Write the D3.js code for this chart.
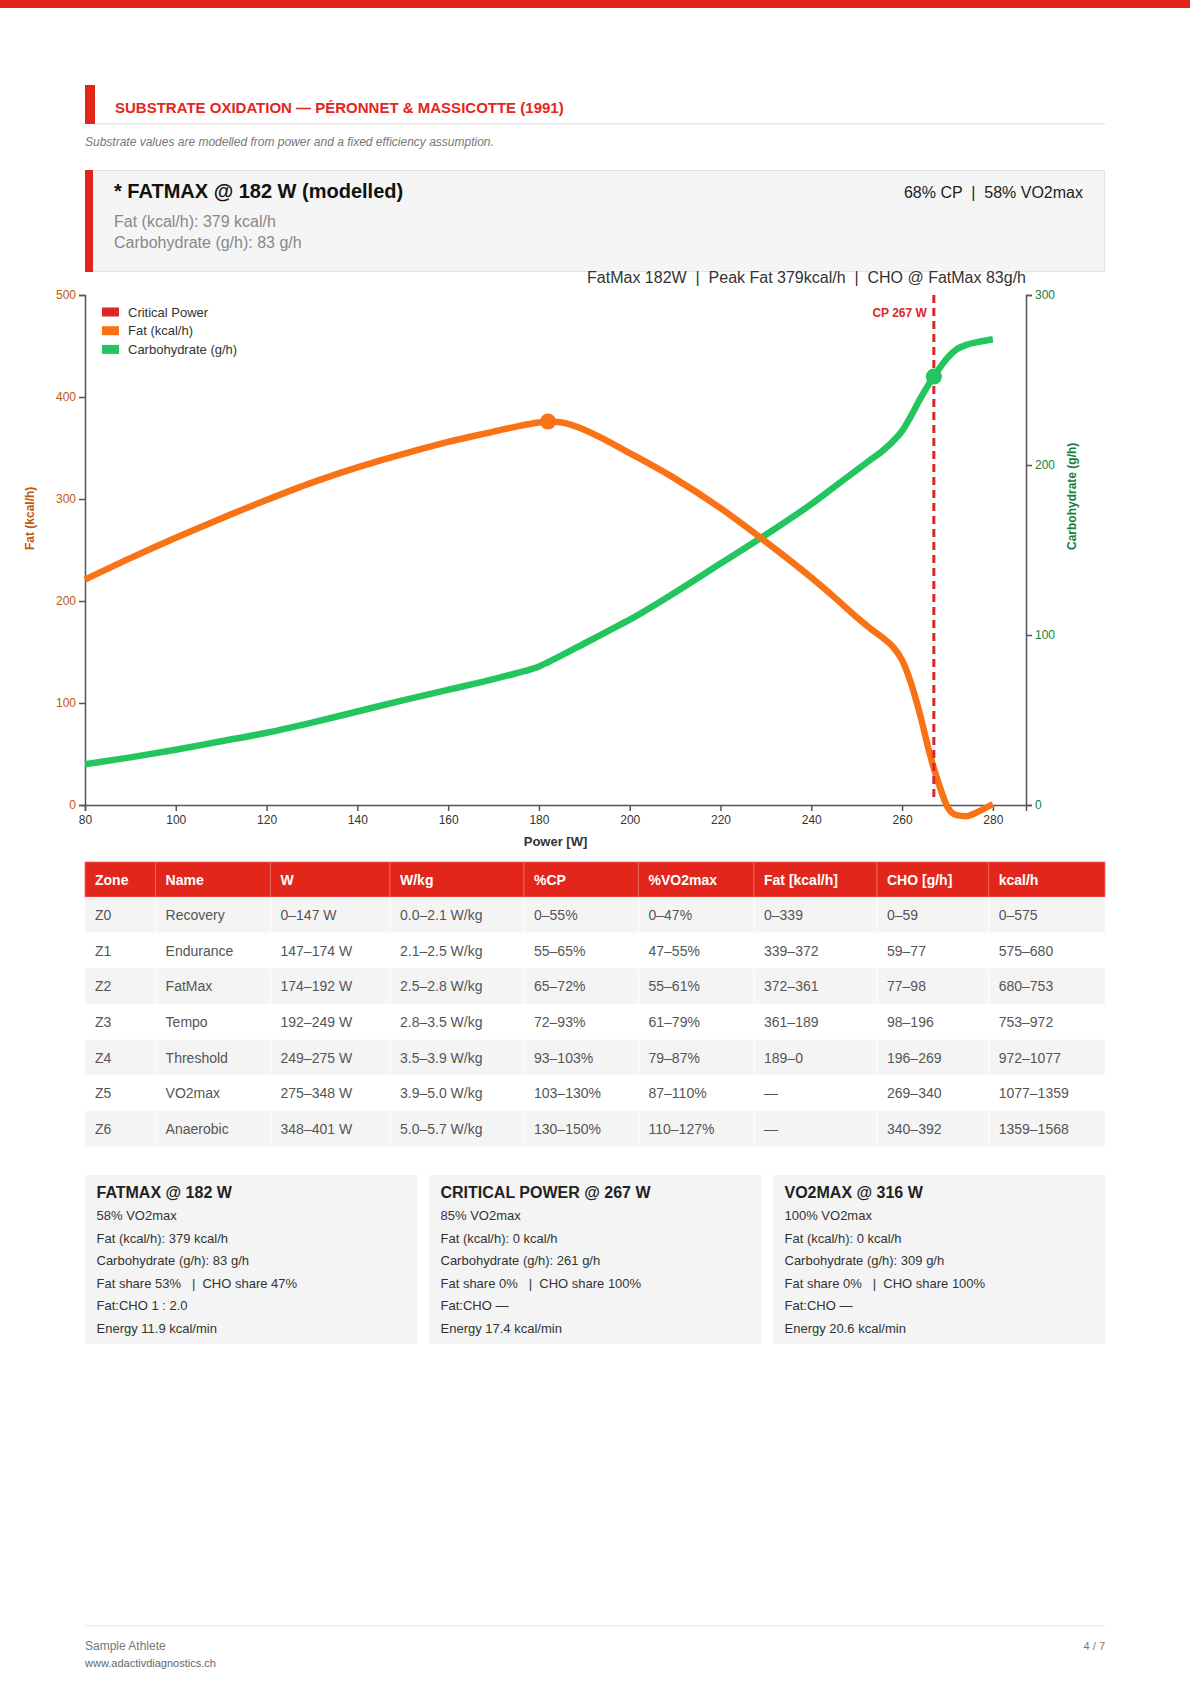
<!DOCTYPE html>
<html lang="en">
<head>
  <meta charset="UTF-8">
  <title>Substrate Oxidation</title>
  <script src="https://d3js.org/d3.v7.min.js"></script>
  <style>
    body { margin: 0; background: #fff; }
    svg { display: block; font-family: "Liberation Sans", Arial, Helvetica, sans-serif; }
    .pre { white-space: pre; }
  </style>
</head>
<body>
  <div id="page"></div>
  <script>
    // --- data ---
    const power = [80, 90, 100, 110, 120, 130, 140, 150, 160, 170, 175, 180, 182, 185, 190, 195, 200, 210, 220, 230,
      240, 245, 250, 253, 256, 258, 260, 262, 264, 266, 267, 268, 270, 272, 274, 277, 280];
    const fat = [221, 242, 262, 281, 299, 316, 331, 344, 356, 366, 371, 375, 376, 375, 368, 357, 345, 320, 291, 258,
      223, 204, 184, 173, 163, 155, 142, 119, 88, 52, 36, 22, -2, -10, -11, -6, 1];
    const cho = [24, 28, 32.5, 37.5, 42.5, 48.5, 55, 61.5, 67.8, 74, 77.5, 81.5, 84, 88, 95, 102, 109, 125, 142, 159,
      177, 187, 197, 203, 209, 214, 220, 229, 239, 248, 252, 256, 263, 268, 270.5, 272.5, 274];

    const fatmaxW = 182;
    const cpW = 267;
    const xTicks = [80, 100, 120, 140, 160, 180, 200, 220, 240, 260, 280];
    const fatTicks = [0, 100, 200, 300, 400, 500];
    const choTicks = [0, 100, 200, 300];
    const legendLabels = ["Critical Power", "Fat (kcal/h)", "Carbohydrate (g/h)"];

    const tableHeader = ["Zone", "Name", "W", "W/kg", "%CP", "%VO2max", "Fat [kcal/h]", "CHO [g/h]", "kcal/h"];
    const tableRows = [
      ["Z0", "Recovery", "0–147 W", "0.0–2.1 W/kg", "0–55%", "0–47%", "0–339", "0–59", "0–575"],
      ["Z1", "Endurance", "147–174 W", "2.1–2.5 W/kg", "55–65%", "47–55%", "339–372", "59–77", "575–680"],
      ["Z2", "FatMax", "174–192 W", "2.5–2.8 W/kg", "65–72%", "55–61%", "372–361", "77–98", "680–753"],
      ["Z3", "Tempo", "192–249 W", "2.8–3.5 W/kg", "72–93%", "61–79%", "361–189", "98–196", "753–972"],
      ["Z4", "Threshold", "249–275 W", "3.5–3.9 W/kg", "93–103%", "79–87%", "189–0", "196–269", "972–1077"],
      ["Z5", "VO2max", "275–348 W", "3.9–5.0 W/kg", "103–130%", "87–110%", "—", "269–340", "1077–1359"],
      ["Z6", "Anaerobic", "348–401 W", "5.0–5.7 W/kg", "130–150%", "110–127%", "—", "340–392", "1359–1568"]
    ];

    const cardTitles = ["FATMAX @ 182 W", "CRITICAL POWER @ 267 W", "VO2MAX @ 316 W"];
    const cardLines = [
      ["58% VO2max", "Fat (kcal/h): 379 kcal/h", "Carbohydrate (g/h): 83 g/h", "Fat share 53%   |  CHO share 47%", "Fat:CHO 1 : 2.0", "Energy 11.9 kcal/min"],
      ["85% VO2max", "Fat (kcal/h): 0 kcal/h", "Carbohydrate (g/h): 261 g/h", "Fat share 0%   |  CHO share 100%", "Fat:CHO —", "Energy 17.4 kcal/min"],
      ["100% VO2max", "Fat (kcal/h): 0 kcal/h", "Carbohydrate (g/h): 309 g/h", "Fat share 0%   |  CHO share 100%", "Fat:CHO —", "Energy 20.6 kcal/min"]
    ];

    // --- page ---
    const W = 1190, H = 1683;
    const red = "#e3261b";
    const fatColor = "#f97316", choColor = "#22c55e", cpColor = "#dc2626";
    const fatText = "#c2570c", choText = "#15803d";

    const svg = d3.select("#page").append("svg")
      .attr("width", W)
      .attr("height", H);

    svg.append("rect").attr("x", 0).attr("y", 0).attr("width", W).attr("height", 8).attr("fill", red);

    // section header
    svg.append("rect").attr("x", 85).attr("y", 85).attr("width", 10).attr("height", 39).attr("fill", red);
    svg.append("rect").attr("x", 95).attr("y", 123).attr("width", 1010).attr("height", 1.5).attr("fill", "#e8e8e8");
    svg.append("text")
      .attr("x", 115).attr("y", 113)
      .attr("font-size", 15).attr("font-weight", "bold").attr("fill", red)
      .text("SUBSTRATE OXIDATION — PÉRONNET & MASSICOTTE (1991)");
    svg.append("text")
      .attr("x", 85).attr("y", 146)
      .attr("font-size", 12).attr("font-style", "italic").attr("fill", "#777")
      .text("Substrate values are modelled from power and a fixed efficiency assumption.");

    // fatmax box
    svg.append("rect").attr("x", 85.5).attr("y", 170.5).attr("width", 1019).attr("height", 101)
      .attr("fill", "#f5f5f5").attr("stroke", "#e3e3e3");
    svg.append("rect").attr("x", 85).attr("y", 170).attr("width", 8).attr("height", 102).attr("fill", red);
    svg.append("text").attr("x", 114).attr("y", 198)
      .attr("font-size", 20).attr("font-weight", "bold").attr("fill", "#111")
      .text("* FATMAX @ 182 W (modelled)");
    svg.append("text").attr("x", 114).attr("y", 227)
      .attr("font-size", 16).attr("fill", "#888")
      .text("Fat (kcal/h): 379 kcal/h");
    svg.append("text").attr("x", 114).attr("y", 248)
      .attr("font-size", 16).attr("fill", "#888")
      .text("Carbohydrate (g/h): 83 g/h");
    svg.append("text").attr("class", "pre").attr("x", 1083).attr("y", 198)
      .attr("text-anchor", "end").attr("font-size", 16).attr("fill", "#222")
      .text("68% CP  |  58% VO2max");

    // --- chart ---
    const plot = { left: 85, right: 1026, top: 295, bottom: 805 };

    const x = d3.scaleLinear().domain([80, 287.3]).range([plot.left, plot.right]);
    const yFat = d3.scaleLinear().domain([0, 500]).range([plot.bottom, plot.top]);
    const yCho = d3.scaleLinear().domain([0, 300]).range([plot.bottom, plot.top]);

    svg.append("text").attr("class", "pre")
      .attr("x", plot.right).attr("y", 283)
      .attr("text-anchor", "end").attr("font-size", 16).attr("fill", "#333")
      .text("FatMax 182W  |  Peak Fat 379kcal/h  |  CHO @ FatMax 83g/h");

    const g = svg.append("g");

    const xAxis = g.append("g")
      .attr("transform", `translate(0,${plot.bottom})`)
      .call(d3.axisBottom(x).tickValues(xTicks).tickSize(6).tickPadding(4));
    const leftAxis = g.append("g")
      .attr("transform", `translate(${plot.left},0)`)
      .call(d3.axisLeft(yFat).tickValues(fatTicks).tickSize(6).tickPadding(3));
    const rightAxis = g.append("g")
      .attr("transform", `translate(${plot.right},0)`)
      .call(d3.axisRight(yCho).tickValues(choTicks).tickSize(6).tickPadding(3));

    [xAxis, leftAxis, rightAxis].forEach(a => {
      a.select(".domain").attr("stroke", "#555").attr("stroke-width", 1.5);
      a.selectAll(".tick line").attr("stroke", "#555").attr("stroke-width", 1.5);
      a.selectAll(".tick text").attr("font-size", 12).attr("font-family", "Liberation Sans, Arial, sans-serif");
    });
    xAxis.selectAll(".tick text").attr("fill", "#333");
    leftAxis.selectAll(".tick text").attr("fill", fatText);
    rightAxis.selectAll(".tick text").attr("fill", choText);

    svg.append("text")
      .attr("x", (plot.left + plot.right) / 2).attr("y", 846)
      .attr("text-anchor", "middle").attr("font-size", 13).attr("font-weight", "bold").attr("fill", "#333")
      .text("Power [W]");
    svg.append("text")
      .attr("transform", `translate(34,550) rotate(-90)`)
      .attr("font-size", 12).attr("font-weight", "bold").attr("fill", fatText)
      .text("Fat (kcal/h)");
    svg.append("text")
      .attr("transform", `translate(1076,550) rotate(-90)`)
      .attr("font-size", 12).attr("font-weight", "bold").attr("fill", choText)
      .text("Carbohydrate (g/h)");

    const points = power.map((p, i) => ({ p, fat: fat[i], cho: cho[i] }));

    const fatLine = d3.line().x(d => x(d.p)).y(d => yFat(d.fat)).curve(d3.curveMonotoneX);
    const choLine = d3.line().x(d => x(d.p)).y(d => yCho(d.cho)).curve(d3.curveMonotoneX);

    g.append("path").datum(points)
      .attr("d", choLine).attr("fill", "none")
      .attr("stroke", choColor).attr("stroke-width", 6.5).attr("stroke-linejoin", "round");
    g.append("path").datum(points)
      .attr("d", fatLine).attr("fill", "none")
      .attr("stroke", fatColor).attr("stroke-width", 6.5).attr("stroke-linejoin", "round");

    // critical power marker
    g.append("line")
      .attr("x1", x(cpW)).attr("x2", x(cpW))
      .attr("y1", yFat(500)).attr("y2", yFat(4))
      .attr("stroke", cpColor).attr("stroke-width", 3).attr("stroke-dasharray", "8,5");
    g.append("text")
      .attr("x", x(cpW) - 7).attr("y", 317)
      .attr("text-anchor", "end").attr("font-size", 12).attr("font-weight", "bold").attr("fill", cpColor)
      .text(`CP ${cpW} W`);

    const fmPoint = points.find(d => d.p === fatmaxW);
    const cpPoint = points.find(d => d.p === cpW);
    g.append("circle").attr("cx", x(fmPoint.p)).attr("cy", yFat(fmPoint.fat)).attr("r", 8).attr("fill", fatColor);
    g.append("circle").attr("cx", x(cpPoint.p)).attr("cy", yCho(cpPoint.cho)).attr("r", 8).attr("fill", choColor);

    // legend
    const legend = svg.append("g").attr("transform", "translate(102,312)");
    const legendColors = [cpColor, fatColor, choColor];
    legendLabels.forEach((lab, i) => {
      const row = legend.append("g").attr("transform", `translate(0,${i * 18.7})`);
      row.append("rect").attr("x", 0).attr("y", -4.5).attr("width", 17).attr("height", 9).attr("fill", legendColors[i]);
      row.append("text").attr("x", 26).attr("y", 4.5).attr("font-size", 13).attr("fill", "#333").text(lab);
    });

    // --- zone table ---
    const colEdges = [85, 155.6, 270.5, 390, 524, 638.5, 754, 877, 988.7, 1105];
    const tableTop = 862, headH = 35, rowH = 35.7;
    const table = svg.append("g");

    table.selectAll(".hcell").data(tableHeader).enter().append("rect")
      .attr("x", (d, i) => colEdges[i]).attr("y", tableTop)
      .attr("width", (d, i) => colEdges[i + 1] - colEdges[i]).attr("height", headH)
      .attr("fill", red).attr("stroke", "#ee6a60").attr("stroke-width", 0.8);
    table.selectAll(".htext").data(tableHeader).enter().append("text")
      .attr("x", (d, i) => colEdges[i] + 10).attr("y", tableTop + headH / 2 + 5)
      .attr("font-size", 14).attr("font-weight", "bold").attr("fill", "#fff")
      .text(d => d);

    tableRows.forEach((row, r) => {
      const y0 = tableTop + headH + r * rowH;
      table.append("rect")
        .attr("x", colEdges[0]).attr("y", y0)
        .attr("width", colEdges[colEdges.length - 1] - colEdges[0]).attr("height", rowH)
        .attr("fill", r % 2 === 0 ? "#f4f4f4" : "#ffffff");
      row.forEach((cell, c) => {
        if (c > 0) {
          table.append("line")
            .attr("x1", colEdges[c]).attr("x2", colEdges[c])
            .attr("y1", y0).attr("y2", y0 + rowH)
            .attr("stroke", "#fff").attr("stroke-width", 1);
        }
        table.append("text")
          .attr("x", colEdges[c] + 10).attr("y", y0 + rowH / 2 + 5)
          .attr("font-size", 14).attr("fill", "#555")
          .text(cell);
      });
    });

    // --- marker cards ---
    const cardX = [85, 429, 773], cardW = 332.5, cardTop = 1175, cardH = 169;
    cardTitles.forEach((title, i) => {
      const card = svg.append("g").attr("transform", `translate(${cardX[i]},${cardTop})`);
      card.append("rect").attr("width", cardW).attr("height", cardH).attr("fill", "#f4f4f4");
      card.append("text").attr("x", 11.5).attr("y", 23)
        .attr("font-size", 16).attr("font-weight", "bold").attr("fill", "#222").text(title);
      cardLines[i].forEach((line, j) => {
        card.append("text").attr("class", "pre").attr("x", 11.5).attr("y", 45 + j * 22.6)
          .attr("font-size", 13).attr("fill", "#333").text(line);
      });
    });

    // --- footer ---
    svg.append("rect").attr("x", 85).attr("y", 1625).attr("width", 1020).attr("height", 1.5).attr("fill", "#ececec");
    svg.append("text").attr("x", 85).attr("y", 1650).attr("font-size", 12).attr("fill", "#777").text("Sample Athlete");
    svg.append("text").attr("x", 85).attr("y", 1667).attr("font-size", 11).attr("fill", "#666").text("www.adactivdiagnostics.ch");
    svg.append("text").attr("x", 1105).attr("y", 1650).attr("text-anchor", "end")
      .attr("font-size", 11).attr("fill", "#777").text("4 / 7");
  </script>
</body>
</html>
